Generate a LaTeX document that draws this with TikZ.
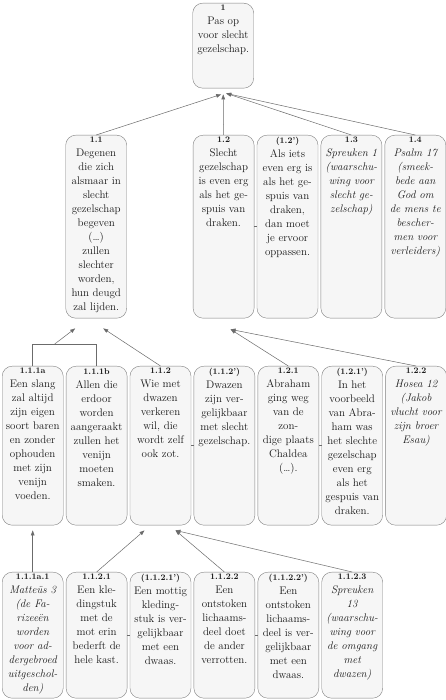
\documentclass[tikz,border=0pt]{standalone}
\usepackage{fontspec}
\usetikzlibrary{arrows.meta, positioning}

\definecolor{boxline}{gray}{0.5}
\definecolor{boxfill}{gray}{0.965}
\definecolor{ink}{gray}{0.1}
\definecolor{wire}{gray}{0.42}

% box text: height, label, lines
\newcommand{\stmt}[3]{\parbox[t][#1][t]{57pt}{\centering{\fontsize{8.5}{10}\selectfont\bfseries #2}\\#3}}

\begin{document}
\begin{tikzpicture}[x=1pt, y=1pt,
		stmtbox/.style={rectangle, draw=boxline, fill=boxfill, rounded corners=10pt, inner sep=2pt, text=ink, font=\fontsize{11}{14}\selectfont},
		line/.style={draw=wire, line width=0.5pt, -{Triangle[length=5pt,width=3.6pt]}},
		link/.style={draw=wire, line width=0.5pt}]

		\useasboundingbox (0,0) rectangle (445,700);
		\fill [white] (0,0) rectangle (445,700);

		% conclusie
		\node [stmtbox, anchor=north west] (n1) at (192.5,697) {\stmt{81pt}{1}{Pas op\\voor slecht\\gezelschap.}};

		% eerste laag
		\node [stmtbox, anchor=north west] (n11) at (65.5,565) {\stmt{179pt}{1.1}{Degenen\\die zich\\alsmaar in\\slecht\\gezelschap\\begeven\\(\ldots)\\zullen\\slechter\\worden,\\hun deugd\\zal lijden.}};
		\node [stmtbox, right=66pt of n11] (n12) {\stmt{179pt}{1.2}{Slecht\\gezelschap\\is even erg\\als het ge-\\spuis van\\draken.}};
		\node [stmtbox, right=2.5pt of n12] (n12p) {\stmt{179pt}{(1.2')}{Als iets\\even erg is\\als het ge-\\spuis van\\draken,\\dan moet\\je ervoor\\oppassen.}};
		\node [stmtbox, right=2.5pt of n12p] (n13) {\stmt{179pt}{1.3}{\itshape Spreuken 1\\(waarschu-\\wing voor\\slecht ge-\\zelschap)}};
		\node [stmtbox, right=2.5pt of n13] (n14) {\stmt{179pt}{1.4}{\itshape Psalm 17\\(smeek-\\bede aan\\God om\\de mens te\\bescher-\\men voor\\verleiders)}};

		% tweede laag
		\node [stmtbox, anchor=north west] (n111a) at (2,334) {\stmt{155pt}{1.1.1a}{Een slang\\zal altijd\\zijn eigen\\soort baren\\en zonder\\ophouden\\met zijn\\venijn\\voeden.}};
		\node [stmtbox, right=2.5pt of n111a] (n111b) {\stmt{155pt}{1.1.1b}{Allen die\\erdoor\\worden\\aangeraakt\\zullen het\\venijn\\moeten\\smaken.}};
		\node [stmtbox, right=2.5pt of n111b] (n112) {\stmt{155pt}{1.1.2}{Wie met\\dwazen\\verkeren\\wil, die\\wordt zelf\\ook zot.}};
		\node [stmtbox, right=2.5pt of n112] (n112p) {\stmt{155pt}{(1.1.2')}{Dwazen\\zijn ver-\\gelijkbaar\\met slecht\\gezelschap.}};
		\node [stmtbox, right=2.5pt of n112p] (n121) {\stmt{155pt}{1.2.1}{Abraham\\ging weg\\van de\\zon-\\dige plaats\\Chaldea\\(\ldots).}};
		\node [stmtbox, right=2.5pt of n121] (n121p) {\stmt{155pt}{(1.2.1')}{In het\\voorbeeld\\van Abra-\\ham was\\het slechte\\gezelschap\\even erg\\als het\\gespuis van\\draken.}};
		\node [stmtbox, right=2.5pt of n121p] (n122) {\stmt{155pt}{1.2.2}{\itshape Hosea 12\\(Jakob\\vlucht voor\\zijn broer\\Esau)}};

		% derde laag
		\node [stmtbox, anchor=north west] (n111a1) at (2,128) {\stmt{122pt}{1.1.1a.1}{\itshape Matteüs 3\\(de Fa-\\rizeeën\\worden\\voor ad-\\dergebroed\\uitgeschol-\\den)}};
		\node [stmtbox, right=2.5pt of n111a1] (n1121) {\stmt{122pt}{1.1.2.1}{Een kle-\\dingstuk\\met de\\mot erin\\bederft de\\hele kast.}};
		\node [stmtbox, right=2.5pt of n1121] (n1121p) {\stmt{122pt}{(1.1.2.1')}{Een mottig\\kleding-\\stuk is ver-\\gelijkbaar\\met een\\dwaas.}};
		\node [stmtbox, right=2.5pt of n1121p] (n1122) {\stmt{122pt}{1.1.2.2}{Een\\ontstoken\\lichaams-\\deel doet\\de ander\\verrotten.}};
		\node [stmtbox, right=2.5pt of n1122] (n1122p) {\stmt{122pt}{(1.1.2.2')}{Een\\ontstoken\\lichaams-\\deel is ver-\\gelijkbaar\\met een\\dwaas.}};
		\node [stmtbox, right=2.5pt of n1122p] (n1123) {\stmt{122pt}{1.1.2.3}{\itshape Spreuken\\13\\(waarschu-\\wing voor\\de omgang\\met\\dwazen)}};

		% Pijlen
		\path [line] (n11.north) -- ([xshift=-2pt,yshift=-6pt]n1.south);
		\path [line] (n12.north) -- ([yshift=-6pt]n1.south);
		\path [line] (n13.north) -- ([xshift=3pt,yshift=-5pt]n1.south);
		\path [line] (n14.north) -- ([xshift=3pt,yshift=-5pt]n1.south);

		\path [link] (n111a.north) -- ++(0,22) coordinate (brl) -| (n111b.north);
		\coordinate (join) at ([xshift=22pt]brl);
		\path [line] (join) -- ([xshift=-21pt,yshift=-10pt]n11.south);
		\path [line] (n112.north) -- ([xshift=7pt,yshift=-10pt]n11.south);
		\path [line] (n121.north) -- ([xshift=7pt,yshift=-11pt]n12.south);
		\path [line] (n122.north) -- ([xshift=7pt,yshift=-11pt]n12.south);

		\path [line] (n111a1.north) -- ([yshift=-5pt]n111a.south);
		\path [line] (n1121.north) -- ([xshift=-16pt,yshift=-5pt]n112.south);
		\path [line] (n1122.north) -- ([xshift=15pt,yshift=-5pt]n112.south);
		\path [line] (n1123.north) -- ([xshift=15pt,yshift=-5pt]n112.south);

		% Verbindingen
		\path [link] (n12.east) -- (n12p.west);
		\path [link] (n112.east) -- (n112p.west);
		\path [link] (n121.east) -- (n121p.west);
		\path [link] (n1121.east) -- (n1121p.west);
		\path [link] (n1122.east) -- (n1122p.west);

	\end{tikzpicture}
\end{document}
